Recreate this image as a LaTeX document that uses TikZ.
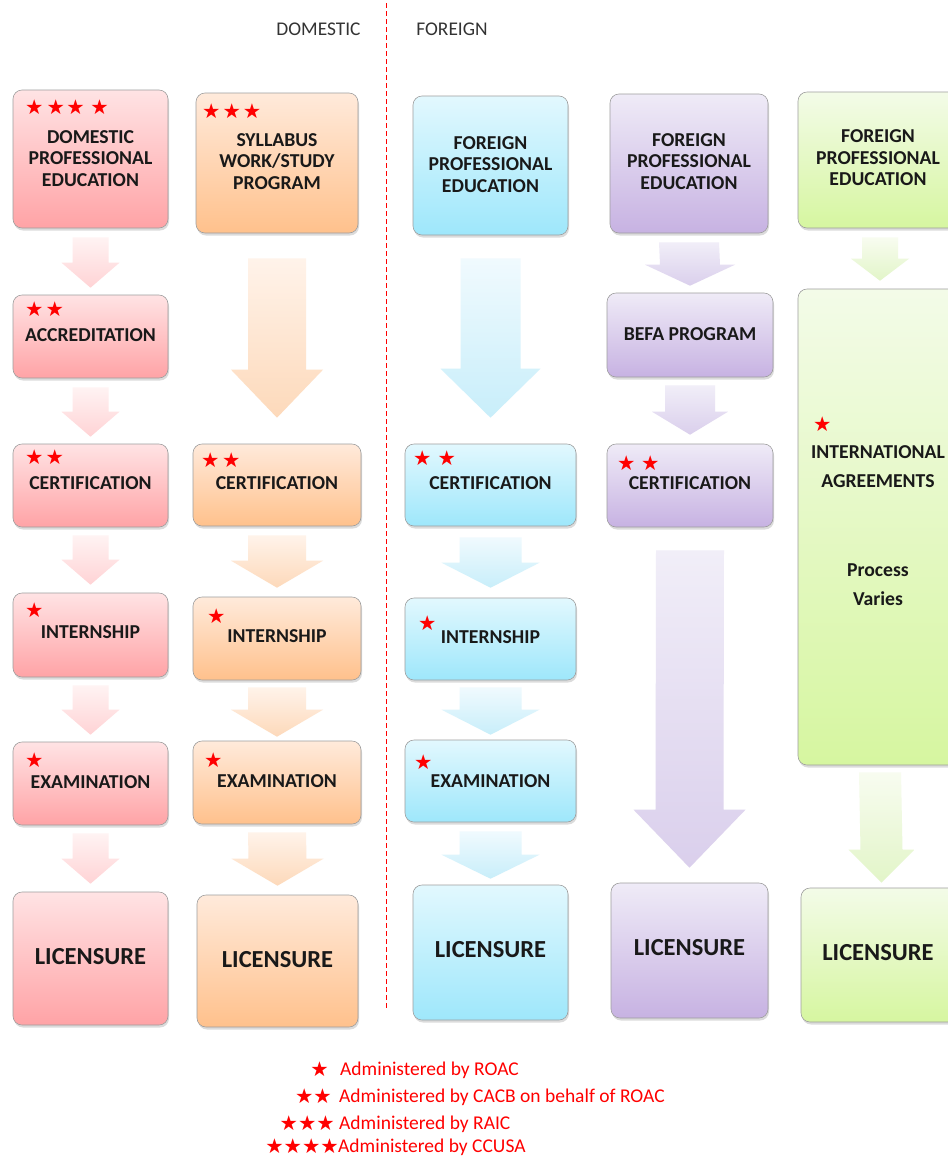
\documentclass[tikz,border=0pt]{standalone}
\usepackage{fontspec}
\setmainfont{Carlito}
\newfontfamily\symfont{DejaVu Sans}
\usetikzlibrary{calc,shadows}
\definecolor{pinkT}{HTML}{FFE3E4}
\definecolor{pinkB}{HTML}{FFA3A6}
\definecolor{oranT}{HTML}{FFEADB}
\definecolor{oranB}{HTML}{FFC18C}
\definecolor{bluT}{HTML}{E2F8FE}
\definecolor{bluB}{HTML}{9EE7FB}
\definecolor{purT}{HTML}{EFEBF7}
\definecolor{purB}{HTML}{C7B2E2}
\definecolor{grnT}{HTML}{F3FBE8}
\definecolor{grnB}{HTML}{D6F6A0}
\definecolor{pinkAT}{HTML}{FFF3F3}
\definecolor{pinkAB}{HTML}{FFD3D5}
\definecolor{oranAT}{HTML}{FFF3EA}
\definecolor{oranAB}{HTML}{FDD9BA}
\definecolor{bluAT}{HTML}{F0FAFE}
\definecolor{bluAB}{HTML}{C8EEFA}
\definecolor{purAT}{HTML}{F1EEF8}
\definecolor{purAB}{HTML}{DACFEC}
\definecolor{grnAT}{HTML}{F8FCF0}
\definecolor{grnAB}{HTML}{E2F5C8}
\newcommand\bx[6]{\node[box, top color=#6T, bottom color=#6B, minimum width={#4-#2}, minimum height={#5-#3}] (#1) at ({(#2+#4)/2},{(#3+#5)/2}) {};}
\newcommand\barrow[8]{\path[top color=#8T, bottom color=#8B]
 ($(#1.south)+(-#5,#3)$) -- ($(#1.south)+(#5,#3)$) -- ($(#2.north)+(#5,{-#4-#7})$) -- ($(#2.north)+(#6,{-#4-#7})$) -- ($(#2.north)+(0,-#4)$) -- ($(#2.north)+(-#6,{-#4-#7})$) -- ($(#2.north)+(-#5,{-#4-#7})$) -- cycle;}
\newcommand\gp[1]{\hspace{#1pt}}
\begin{document}
\begin{tikzpicture}[x=1pt,y=-1pt,
  box/.style={draw=black!38, line width=0.6pt, rounded corners=9pt, drop shadow={opacity=0.28, shadow xshift=1pt, shadow yshift=-2.5pt}, inner sep=0pt},
  lbl/.style={font=\bfseries\fontsize{19.7}{21.5}\selectfont, align=center, text=black!90, inner sep=0pt},
  lic/.style={font=\bfseries\fontsize{24.5}{28}\selectfont, text=black!90, inner sep=0pt},
  st/.style={font=\symfont\fontsize{20.5}{20.5}\selectfont, text=red, inner sep=0pt, anchor=west},
  lst/.style={font=\symfont\fontsize{20.5}{20.5}\selectfont, text=red, inner sep=0pt, anchor=east},
  leg/.style={font=\fontsize{19.5}{22}\selectfont, text=red, inner sep=0pt, anchor=base west},
  hdr/.style={font=\fontsize{19.4}{22}\selectfont, text=black!80, inner sep=0pt},
]
\clip (0,0) rectangle (948,1157);
\fill[white] (0,0) rectangle (948,1157);

% headers and divider
\node[hdr] (hdom) at (318.5,29) {DOMESTIC};
\node[hdr] (hfor) at (452,29) {FOREIGN};
\draw[red, line width=0.9pt, dash pattern=on 5pt off 3pt] (386,3) -- (386,1010);

% boxes
\bx{p1}{13}{90}{168}{228}{pink}
\bx{p2}{13}{295}{168}{378}{pink}
\bx{p3}{13}{444}{168}{527}{pink}
\bx{p4}{13}{593}{168}{677}{pink}
\bx{p5}{13}{742}{168}{825}{pink}
\bx{p6}{13}{892}{168}{1025}{pink}
\bx{o1}{196}{93}{358}{233}{oran}
\bx{o3}{193}{444}{361}{526}{oran}
\bx{o4}{193}{597}{361}{680}{oran}
\bx{o5}{193}{741}{361}{824}{oran}
\bx{o6}{197}{895}{358}{1027}{oran}
\bx{b1}{413}{96}{568}{235}{blu}
\bx{b3}{405}{444}{576}{526}{blu}
\bx{b4}{405}{598}{576}{680}{blu}
\bx{b5}{405}{740}{576}{822}{blu}
\bx{b6}{413}{885}{568}{1020}{blu}
\bx{u1}{610}{94}{768}{233}{pur}
\bx{u2}{607}{293}{773}{377}{pur}
\bx{u3}{607}{444}{773}{527}{pur}
\bx{u6}{611}{883}{768}{1018}{pur}
\bx{g1}{798}{92}{962}{228}{grn}
\bx{g2}{798}{289}{962}{765}{grn}
\bx{g6}{801}{888}{962}{1022}{grn}

% block arrows
\barrow{p1}{p2}{9}{7}{18}{29}{25}{pinkA}
\barrow{p2}{p3}{9}{7}{18}{29}{25}{pinkA}
\barrow{p3}{p4}{8}{8}{18}{29}{25}{pinkA}
\barrow{p4}{p5}{8}{7}{18}{29}{25}{pinkA}
\barrow{p5}{p6}{8}{8}{18}{29}{25}{pinkA}
\barrow{o1}{o3}{25}{26}{29}{46}{48}{oranA}
\barrow{o3}{o4}{9}{9}{29}{46}{27}{oranA}
\barrow{o4}{o5}{7}{4}{29}{46}{27}{oranA}
\barrow{o5}{o6}{8}{9}{29}{46}{27}{oranA}
\barrow{b1}{b3}{23}{26}{30}{50}{49}{bluA}
\barrow{b3}{b4}{11}{10}{31}{49}{25}{bluA}
\barrow{b4}{b5}{7}{5}{31}{49}{25}{bluA}
\barrow{b5}{b6}{9}{6}{31}{49}{24}{bluA}
\barrow{u1}{u2}{9}{7}{30}{45}{21}{purA}
\barrow{u2}{u3}{8}{9}{25}{38}{23}{purA}
\barrow{u3}{u6}{23}{15}{34}{56}{58}{purA}
\barrow{g1}{g2}{9}{8}{18}{29}{22}{grnA}
\barrow{g2}{g6}{7}{5}{21}{33}{33}{grnA}

% labels
\node[lbl] (tp1) at (p1 |- 0,158.5) {DOMESTIC\\PROFESSIONAL\\EDUCATION};
\node[lbl] (tp2) at (p2 |- 0,335) {ACCREDITATION};
\node[lbl] (tp3) at (p3 |- 0,483) {CERTIFICATION};
\node[lbl] (tp4) at (p4 |- 0,632) {INTERNSHIP};
\node[lbl] (tp5) at (p5 |- 0,782) {EXAMINATION};
\node[lic] (tp6) at (p6 |- 0,957) {LICENSURE};
\node[lbl] (to1) at (o1 |- 0,161.5) {SYLLABUS\\WORK/STUDY\\PROGRAM};
\node[lbl] (to3) at (o3 |- 0,483) {CERTIFICATION};
\node[lbl] (to4) at (o4 |- 0,636) {INTERNSHIP};
\node[lbl] (to5) at (o5 |- 0,781) {EXAMINATION};
\node[lic] (to6) at (o6 |- 0,960) {LICENSURE};
\node[lbl] (tb1) at (b1 |- 0,164.5) {FOREIGN\\PROFESSIONAL\\EDUCATION};
\node[lbl] (tb3) at (b3 |- 0,483) {CERTIFICATION};
\node[lbl] (tb4) at (b4 |- 0,637) {INTERNSHIP};
\node[lbl] (tb5) at (b5 |- 0,781) {EXAMINATION};
\node[lic] (tb6) at (b6 |- 0,950) {LICENSURE};
\node[lbl] (tu1) at (u1 |- 0,161.5) {FOREIGN\\PROFESSIONAL\\EDUCATION};
\node[lbl] (tu2) at (u2 |- 0,334) {BEFA PROGRAM};
\node[lbl] (tu3) at (u3 |- 0,483) {CERTIFICATION};
\node[lic] (tu6) at (u6 |- 0,948) {LICENSURE};
\node[lbl] (tg1) at (878,158) {FOREIGN\\PROFESSIONAL\\EDUCATION};
\node[lbl, font=\bfseries\fontsize{19.7}{29}\selectfont] (tg2) at (878,466.5) {INTERNATIONAL\\AGREEMENTS};
\node[lbl, font=\bfseries\fontsize{19.7}{29}\selectfont] (tg3) at (878,585) {Process\\Varies};
\node[lic] (tg6) at (878,953) {LICENSURE};

% stars in boxes
\node[st] (sp1) at (25,107) {★\gp{3}★\gp{1.5}★\gp{5.5}★};
\node[st] (sp2) at (25,309) {★\gp{2}★};
\node[st] (sp3) at (25,457) {★\gp{2}★};
\node[st] (sp4) at (25,610) {★};
\node[st] (sp5) at (25,760) {★};
\node[st] (so1) at (202,111) {★\gp{2}★\gp{2}★};
\node[st] (so3) at (201,460) {★\gp{2.5}★};
\node[st] (so4) at (207,616) {★};
\node[st] (so5) at (204,760) {★};
\node[st] (sb3) at (413,458) {★\gp{6}★};
\node[st] (sb4) at (418,623) {★};
\node[st] (sb5) at (414,762) {★};
\node[st] (su3) at (617,463) {★\gp{5.5}★};
\node[st] (sg2) at (813,424) {★};

% legend
\node[lst] (l1s) at (329,1069) {★};
\node[lst] (l2s) at (332,1096) {★★};
\node[lst] (l3s) at (335,1123) {★★★};
\node[lst] (l4s) at (339,1146) {★★★★};
\node[leg] (l1t) at (340,1075) {Administered by ROAC};
\node[leg] (l2t) at (339,1102) {Administered by CACB on behalf of ROAC};
\node[leg] (l3t) at (339,1129) {Administered by RAIC};
\node[leg] (l4t) at (338,1152) {Administered by CCUSA};
\end{tikzpicture}
\end{document}
